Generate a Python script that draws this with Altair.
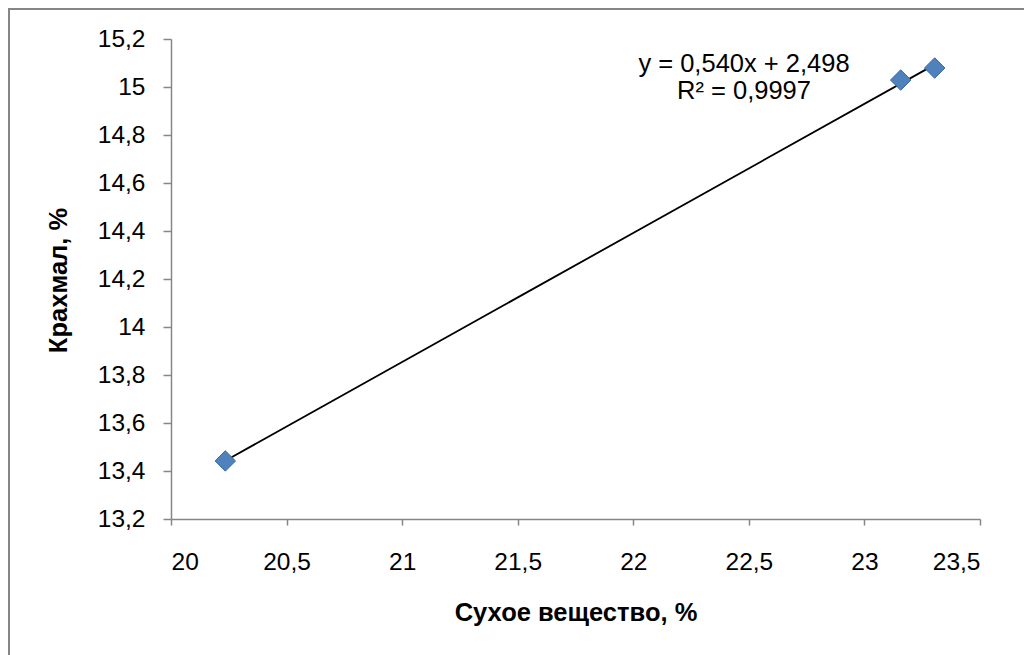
import altair as alt
import pandas as pd

# Data
dry_matter = [20.235, 23.157, 23.304]
starch = [13.442, 15.029, 15.079]
x_ticks = [20, 20.5, 21, 21.5, 22, 22.5, 23, 23.5]
y_ticks = [13.2, 13.4, 13.6, 13.8, 14, 14.2, 14.4, 14.6, 14.8, 15, 15.2]
equation_lines = ["y = 0,540x + 2,498", "R² = 0,9997"]
x_title = "Сухое вещество, %"
y_title = "Крахмал, %"

df = pd.DataFrame({"x": dry_matter, "y": starch})

FONT = "Liberation Sans"
AXIS_COLOR = "#868686"
label_expr = "replace(format(datum.value, '~g'), '.', ',')"

x_enc = alt.X(
    "x:Q",
    scale=alt.Scale(domain=[20, 23.5], nice=False, zero=False),
    axis=alt.Axis(
        values=x_ticks, labelExpr=label_expr, title=x_title, grid=False,
        domainColor=AXIS_COLOR, domainWidth=1.5, tickColor=AXIS_COLOR, tickWidth=1.5,
        tickSize=6, labelPadding=44, labelBaseline="alphabetic",
        labelFont=FONT, labelFontSize=24.5, labelColor="black",
        titleFont=FONT, titleFontSize=25.5, titleFontWeight="bold", titleColor="black",
        titleBaseline="middle", titleY=93,
    ),
)
y_enc = alt.Y(
    "y:Q",
    scale=alt.Scale(domain=[13.2, 15.2], nice=False, zero=False),
    axis=alt.Axis(
        values=y_ticks, labelExpr=label_expr, title=y_title, grid=False,
        domainColor=AXIS_COLOR, domainWidth=1.5, tickColor=AXIS_COLOR, tickWidth=1.5,
        tickSize=8, labelPadding=18, labelBaseline="middle",
        labelFont=FONT, labelFontSize=24.5, labelColor="black",
        titleFont=FONT, titleFontSize=25.5, titleFontWeight="bold", titleColor="black",
        titleBaseline="middle", titleX=-113, titleY=241, titleAngle=-90,
    ),
)

base = alt.Chart(df)

points = base.mark_point(
    shape="diamond", filled=True, size=420, color="#4F81BD",
    stroke="#3A6AA6", strokeWidth=1, opacity=1,
).encode(x=x_enc, y=y_enc)

trend = base.transform_regression("x", "y").mark_line(
    color="black", strokeWidth=1.8
).encode(x="x:Q", y="y:Q")

eq1 = alt.Chart(alt.Data(values=[{"t": equation_lines[0]}])).mark_text(
    font=FONT, fontSize=25.5, color="black", align="center", baseline="alphabetic"
).encode(text="t:N", x=alt.value(573), y=alt.value(33))

eq2 = alt.Chart(alt.Data(values=[{"t": equation_lines[1]}])).mark_text(
    font=FONT, fontSize=25.5, color="black", align="center", baseline="alphabetic"
).encode(text="t:N", x=alt.value(573), y=alt.value(60))

border = alt.Chart(alt.Data(values=[{"b": 1}])).mark_rect(
    fill=None, stroke=AXIS_COLOR, strokeWidth=2
).encode(x=alt.value(-162), y=alt.value(-30), x2=alt.value(1200), y2=alt.value(800))

chart = alt.layer(border, trend, points, eq1, eq2).properties(
    width=809, height=480,
    autosize=alt.AutoSizeParams(type="none"),
    padding={"left": 171, "top": 39, "right": 44, "bottom": 136},
    background="white",
).configure_view(stroke=None)

chart.save("out.html", embed_options={"renderer": "svg", "actions": False})
